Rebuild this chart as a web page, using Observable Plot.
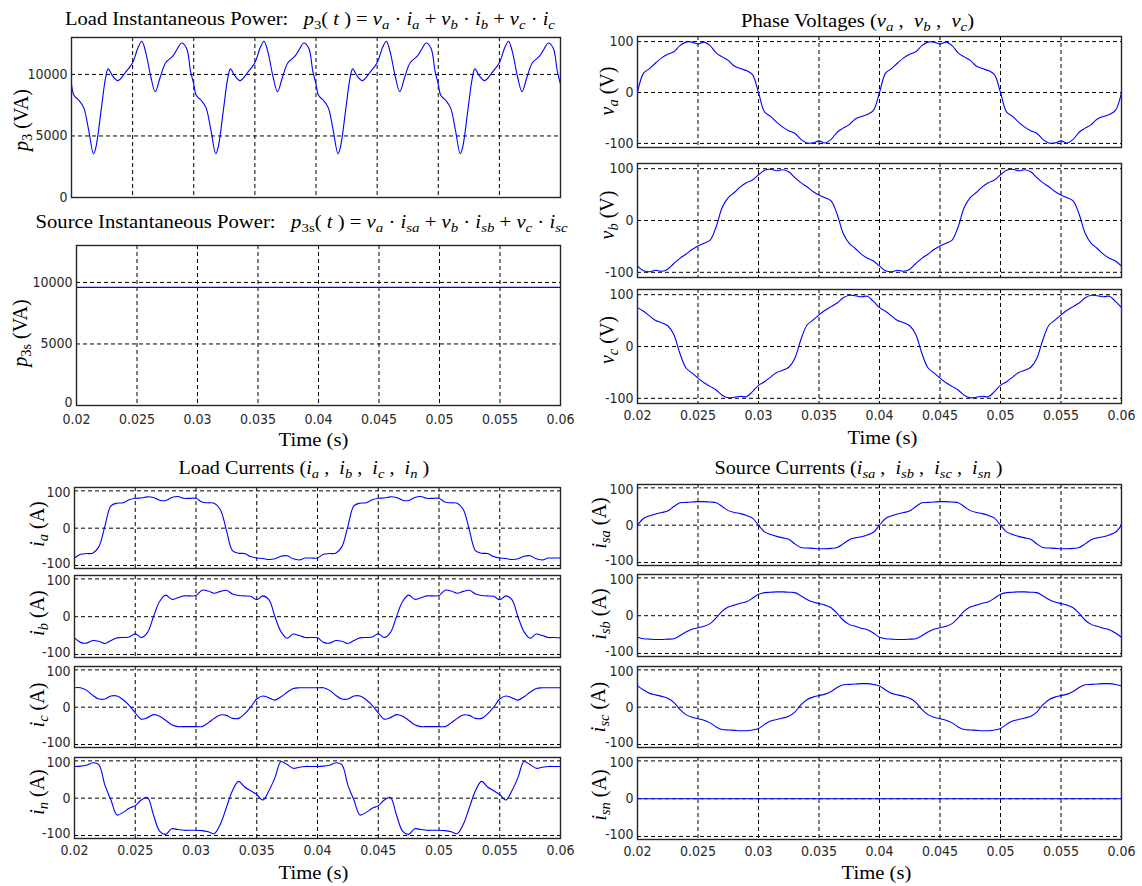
<!DOCTYPE html>
<html><head><meta charset="utf-8">
<script src="https://cdn.jsdelivr.net/npm/d3@7"></script>
<script src="https://cdn.jsdelivr.net/npm/@observablehq/plot@0.6"></script>
<style>
html,body{margin:0;padding:0;background:#fff;}
#root{position:relative;width:1142px;height:886px;background:#fff;overflow:hidden;}
.lbl{position:absolute;font-family:"Liberation Serif","Times New Roman",serif;color:#000;white-space:nowrap;line-height:1;}
.lbl sub{font-size:0.72em;vertical-align:-0.28em;line-height:0;}
.pnl{position:absolute;}
</style></head><body><div id="root"></div>
<script>
// ---------- DATA ----------
const xTicks = [0.02,0.025,0.03,0.035,0.04,0.045,0.05,0.055,0.06];
const powerTicks = [0,5000,10000];
const signalTicks = [-100,0,100];

// common time grid (s)
const t = [0.02,0.0205,0.021,0.0215,0.022,0.0225,0.023,0.0235,0.024,0.0245,0.025,0.0255,0.026,0.0265,0.027,0.0275,0.028,0.0285,0.029,0.0295,
0.03,0.0305,0.031,0.0315,0.032,0.0325,0.033,0.0335,0.034,0.0345,0.035,0.0355,0.036,0.0365,0.037,0.0375,0.038,0.0385,0.039,0.0395,
0.04,0.0405,0.041,0.0415,0.042,0.0425,0.043,0.0435,0.044,0.0445,0.045,0.0455,0.046,0.0465,0.047,0.0475,0.048,0.0485,0.049,0.0495,
0.05,0.0505,0.051,0.0515,0.052,0.0525,0.053,0.0535,0.054,0.0545,0.055,0.0555,0.056,0.0565,0.057,0.0575,0.058,0.0585,0.059,0.0595,0.06];

// load instantaneous power p3 (VA)
const p3T = [
0.0200,0.0202,0.0206,0.0210,0.0214,0.0218,0.0220,0.02245,0.02275,0.0230,0.02335,0.0238,0.0244,0.0250,0.02545,0.02575,0.02605,0.0265,0.02685,0.02725,0.0277,0.0283,0.0287,0.0290,0.0294,0.02975,
0.0300,0.0302,0.0306,0.0310,0.0314,0.0318,0.0320,0.03245,0.03275,0.0330,0.03335,0.0338,0.0344,0.0350,0.03545,0.03575,0.03605,0.0365,0.03685,0.03725,0.0377,0.0383,0.0387,0.0390,0.0394,0.03975,
0.0400,0.0402,0.0406,0.0410,0.0414,0.0418,0.0420,0.04245,0.04275,0.0430,0.04335,0.0438,0.0444,0.0450,0.04545,0.04575,0.04605,0.0465,0.04685,0.04725,0.0477,0.0483,0.0487,0.0490,0.0494,0.04975,
0.0500,0.0502,0.0506,0.0510,0.0514,0.0518,0.0520,0.05245,0.05275,0.0530,0.05335,0.0538,0.0544,0.0550,0.05545,0.05575,0.05605,0.0565,0.05685,0.05725,0.0577,0.0583,0.0587,0.0590,0.0594,0.05975,
0.0600];
const p3V = [
9220,8300,7900,7300,5500,3550,4100,7300,9500,10450,9900,9500,10150,10950,12200,12700,11900,9750,8600,9750,10950,11500,12150,12550,12150,10200,
9220,8300,7900,7300,5500,3550,4100,7300,9500,10450,9900,9500,10150,10950,12200,12700,11900,9750,8600,9750,10950,11500,12150,12550,12150,10200,
9220,8300,7900,7300,5500,3550,4100,7300,9500,10450,9900,9500,10150,10950,12200,12700,11900,9750,8600,9750,10950,11500,12150,12550,12150,10200,
9220,8300,7900,7300,5500,3550,4100,7300,9500,10450,9900,9500,10150,10950,12200,12700,11900,9750,8600,9750,10950,11500,12150,12550,12150,10200,
9220];

// source instantaneous power p3s (VA)
const p3sT = [0.02, 0.06];
const p3sV = [9600, 9600];

// phase voltages (V)
const va = [0,38,47,58,68,75,80,92,99,99,95,99,92,78,70,63,52,47,43,35,0,
-38,-47,-58,-68,-75,-80,-92,-99,-99,-95,-99,-92,-78,-70,-63,-52,-47,-43,-35,0,
38,47,58,68,75,80,92,99,99,95,99,92,78,70,63,52,47,43,35,0,
-38,-47,-58,-68,-75,-80,-92,-99,-99,-95,-99,-92,-78,-70,-63,-52,-47,-43,-35,0];
const vb = [-88,-97,-99,-96,-98,-94,-83,-73,-65,-56,-49,-44,-38,-12,25,44,54,65,73,78,88,97,99,96,98,94,83,73,65,56,49,44,38,12,-25,-44,-54,-65,-73,-78,-88,
-97,-99,-96,-98,-94,-83,-73,-65,-56,-49,-44,-38,-12,25,44,54,65,73,78,88,97,99,96,98,94,83,73,65,56,49,44,38,12,-25,-44,-54,-65,-73,-78,-88];
const vc = [75,68,59,50,46,40,23,-13,-41,-51,-61,-70,-77,-84,-94,-99,-98,-96,-97,-87,-75,-68,-59,-50,-46,-40,-23,13,41,51,61,70,77,84,94,99,98,96,97,87,75,
68,59,50,46,40,23,-13,-41,-51,-61,-70,-77,-84,-94,-99,-98,-96,-97,-87,-75,-68,-59,-50,-46,-40,-23,13,41,51,61,70,77,84,94,99,98,96,97,87,75];

// load currents (A)
const ia = [-80,-70,-68,-67,-50,5,60,67,68,76,80,81,84,82,75,74,82,85,80,80,
80,70,68,67,50,-5,-60,-67,-68,-76,-80,-81,-84,-82,-75,-74,-82,-85,-80,-80,
-80,-70,-68,-67,-50,5,60,67,68,76,80,81,84,82,75,74,82,85,80,80,
80,70,68,67,50,-5,-60,-67,-68,-76,-80,-81,-84,-82,-75,-74,-82,-85,-80,-80,-80];
const ib = [-56,-68,-70,-63,-65,-71,-63,-56,-55,-54,-45,-55,-42,0,40,57,46,50,55,55,
56,70,68,62,67,70,60,56,55,54,45,55,45,0,-40,-57,-46,-50,-55,-55,
-56,-68,-70,-63,-65,-71,-63,-56,-55,-54,-45,-55,-42,0,40,57,46,50,55,55,
56,70,68,62,67,70,60,56,55,54,45,55,45,0,-40,-57,-46,-50,-55,-55,-56];
const ic = [52,52,45,32,22,22,30,30,20,5,-15,-32,-28,-20,-24,-35,-47,-52,-52,-52,-52,-52,-42,-30,-21,-22,-30,-30,-18,0,22,30,25,19,28,40,50,52,52,52,52,
52,45,32,22,22,30,30,20,5,-15,-32,-28,-20,-24,-35,-47,-52,-52,-52,-52,-52,-42,-30,-21,-22,-30,-30,-18,0,22,30,25,19,28,40,50,52,52,52,52];
const iN = [85,86,88,95,90,35,-5,-45,-38,-27,-20,-5,2,-45,-88,-97,-82,-84,-86,-86,-86,-87,-90,-95,-70,-25,20,45,30,20,10,-5,20,55,98,90,80,83,85,85,85,
86,88,95,90,35,-5,-45,-38,-27,-20,-5,2,-45,-88,-97,-82,-84,-86,-86,-86,-87,-90,-95,-70,-25,20,45,30,20,10,-5,20,55,98,90,80,83,85,85,85];

// source currents (A)
const isa = [0,18,25,30,34,38,50,60,61,62,63,63,62,60,50,39,34,31,26,19,0,
-18,-25,-30,-34,-38,-50,-60,-61,-62,-63,-63,-62,-60,-50,-39,-34,-31,-26,-19,0,
18,25,30,34,38,50,60,61,62,63,63,62,60,50,39,34,31,26,19,0,
-18,-25,-30,-34,-38,-50,-60,-61,-62,-63,-63,-62,-60,-50,-39,-34,-31,-26,-19,0];
const isb = [-57,-61,-62,-63,-63,-62,-61,-53,-43,-36,-32,-28,-21,-6,12,23,28,33,37,46,57,61,62,63,63,62,61,53,43,36,32,28,21,6,-12,-23,-28,-33,-37,-46,-57,
-61,-62,-63,-63,-62,-61,-53,-43,-36,-32,-28,-21,-6,12,23,28,33,37,46,57,61,62,63,63,62,61,53,43,36,32,28,21,6,-12,-23,-28,-33,-37,-46,-57];
const isc = [57,46,37,33,29,24,13,-6,-20,-27,-31,-35,-42,-53,-60,-61,-62,-63,-63,-61,-57,-46,-37,-33,-29,-24,-13,6,20,27,31,35,42,53,60,61,62,63,63,61,57,
46,37,33,29,24,13,-6,-20,-27,-31,-35,-42,-53,-60,-61,-62,-63,-63,-61,-57,-46,-37,-33,-29,-24,-13,6,20,27,31,35,42,53,60,61,62,63,63,61,57];
const isnT = [0.02, 0.06];
const isnV = [0, 0];

// ---------- LAYOUT ----------
const root = document.getElementById('root');
const TICK_FONT = '"Liberation Sans Narrow","DejaVu Sans Condensed","Liberation Sans",sans-serif';

function panel(cfg) {
  const ml = 60, mr = 12, mt = 6, mb = cfg.xlab ? 30 : 6;
  const w = cfg.r - cfg.l, h = cfg.b - cfg.t;
  const data = cfg.xs.map((x, i) => ({t: x, v: cfg.ys[i]}));
  const inner = cfg.yt.filter(v => v > cfg.yd[0] && v < cfg.yd[1]);
  const lo = cfg.yt[0], hi = cfg.yt[cfg.yt.length - 1];
  const yLabelMarks = cfg.yt.map(v => Plot.text([v], {
    x: () => 0.02, y: d => d, text: d => String(d),
    textAnchor: "end", dx: -4,
    dy: v === lo ? (cfg.dyLo || 0) : v === hi ? (cfg.dyHi || 0) : 0,
    fill: "#2a2a2a"
  }));
  const svg = Plot.plot({
    width: w + ml + mr, height: h + mt + mb,
    marginLeft: ml, marginRight: mr, marginTop: mt, marginBottom: mb,
    style: {background: "transparent", fontFamily: TICK_FONT, fontSize: "14px", color: "#2a2a2a", overflow: "visible", maxWidth: "none"},
    x: {domain: [0.02, 0.06], ticks: xTicks, tickFormat: d => String(d), tickSize: 0, tickPadding: cfg.xpad || 7, label: null, axis: cfg.xlab ? "bottom" : null},
    y: {domain: cfg.yd, axis: null},
    marks: [
      Plot.ruleX(xTicks.slice(1, -1), {stroke: "#000", strokeWidth: 1, strokeDasharray: "4,3"}),
      Plot.ruleY(inner, {stroke: "#000", strokeWidth: 1, strokeDasharray: "4,3"}),
      Plot.line(data, {x: "t", y: "v", stroke: "#0000ff", strokeWidth: 1.1, curve: "catmull-rom"}),
      Plot.frame({stroke: "#262626", strokeWidth: 1.4}),
      ...yLabelMarks
    ]
  });
  const holder = document.createElement('div');
  holder.className = 'pnl';
  holder.style.left = (cfg.l - ml) + 'px';
  holder.style.top = (cfg.t - mt) + 'px';
  holder.appendChild(svg);
  root.appendChild(holder);
}

function addText(html, cx, cy, size, opts = {}) {
  const d = document.createElement('div');
  d.className = 'lbl';
  d.innerHTML = html;
  d.style.fontSize = size + 'px';
  root.appendChild(d);
  const w = d.offsetWidth, h = d.offsetHeight;
  d.style.left = (cx - w / 2) + 'px';
  d.style.top = (cy - h / 2) + 'px';
  const sx = opts.fitW ? opts.fitW / w : 1;
  d.style.transformOrigin = '50% 50%';
  d.style.transform = (opts.rotate ? 'rotate(-90deg) ' : '') + 'scale(' + sx + ',1)';
}

const V = [-108, 110], VB = [-110, 110], I = [-108, 109];
const C = {dyLo: -1.5, dyHi: 1.5};
const panels = [
  {l: 71, r: 560, t: 37, b: 197, yd: [0, 13000], yt: powerTicks, xs: p3T, ys: p3V},
  {l: 76, r: 560, t: 245, b: 405, yd: [0, 13000], yt: powerTicks, xs: p3sT, ys: p3sV, xlab: true, dyLo: -3, xpad: 9},
  {l: 637, r: 1121, t: 36, b: 147, yd: V, yt: signalTicks, xs: t, ys: va},
  {l: 637, r: 1121, t: 163, b: 277, yd: VB, yt: signalTicks, xs: t, ys: vb},
  {l: 637, r: 1121, t: 289, b: 403, yd: VB, yt: signalTicks, xs: t, ys: vc, xlab: true},
  {l: 74, r: 560, t: 487, b: 568, yd: I, yt: signalTicks, xs: t, ys: ia, ...C},
  {l: 74, r: 560, t: 575, b: 657, yd: I, yt: signalTicks, xs: t, ys: ib, ...C},
  {l: 74, r: 560, t: 666, b: 747, yd: I, yt: signalTicks, xs: t, ys: ic, ...C},
  {l: 74, r: 560, t: 757, b: 838, yd: I, yt: signalTicks, xs: t, ys: iN, xlab: true, ...C},
  {l: 637, r: 1121, t: 484, b: 565, yd: I, yt: signalTicks, xs: t, ys: isa, ...C},
  {l: 637, r: 1121, t: 574, b: 656, yd: I, yt: signalTicks, xs: t, ys: isb, ...C},
  {l: 637, r: 1121, t: 666, b: 747, yd: I, yt: signalTicks, xs: t, ys: isc, ...C},
  {l: 637, r: 1121, t: 757, b: 839, yd: I, yt: signalTicks, xs: isnT, ys: isnV, xlab: true, ...C}
];
panels.forEach(panel);

// titles
addText('Load Instantaneous Power:&nbsp;&nbsp; <i>p</i><sub>3</sub>(<i> t </i>) = <i>v<sub>a</sub></i> · <i>i<sub>a</sub></i> + <i>v<sub>b</sub></i> · <i>i<sub>b</sub></i> + <i>v<sub>c</sub></i> · <i>i<sub>c</sub></i>', 310, 19, 18, {fitW: 490});
addText('Source Instantaneous Power:&nbsp;&nbsp; <i>p</i><sub>3s</sub>(<i> t </i>) = <i>v<sub>a</sub></i> · <i>i<sub>sa</sub></i> + <i>v<sub>b</sub></i> · <i>i<sub>sb</sub></i> + <i>v<sub>c</sub></i> · <i>i<sub>sc</sub></i>', 301, 222, 18, {fitW: 532});
addText('Phase Voltages (<i>v<sub>a</sub></i> ,&nbsp; <i>v<sub>b</sub></i> ,&nbsp; <i>v<sub>c</sub></i>)', 857, 21, 18, {fitW: 233});
addText('Load Currents (<i>i<sub>a</sub></i> ,&nbsp; <i>i<sub>b</sub></i> ,&nbsp; <i>i<sub>c</sub></i> ,&nbsp; <i>i<sub>n</sub></i> )', 304, 468, 18, {fitW: 251});
addText('Source Currents (<i>i<sub>sa</sub></i> ,&nbsp; <i>i<sub>sb</sub></i> ,&nbsp; <i>i<sub>sc</sub></i> ,&nbsp; <i>i<sub>sn</sub></i> )', 858, 468, 18, {fitW: 288});

// x labels
addText('Time (s)', 313, 440, 18, {fitW: 70});
addText('Time (s)', 882, 438, 18, {fitW: 70});
addText('Time (s)', 313, 873, 18, {fitW: 70});
addText('Time (s)', 876, 873, 18, {fitW: 70});

// y labels
const ylabs = [
  ['<i>p</i><sub>3</sub> (VA)', 21, 120],
  ['<i>p</i><sub>3s</sub> (VA)', 19, 333],
  ['<i>v<sub>a</sub></i> (V)', 607, 91],
  ['<i>v<sub>b</sub></i> (V)', 607, 215],
  ['<i>v<sub>c</sub></i> (V)', 607, 340],
  ['<i>i<sub>a</sub></i> (A)', 37, 524],
  ['<i>i<sub>b</sub></i> (A)', 37, 613],
  ['<i>i<sub>c</sub></i> (A)', 37, 705],
  ['<i>i<sub>n</sub></i> (A)', 37, 792],
  ['<i>i<sub>sa</sub></i> (A)', 598, 523],
  ['<i>i<sub>sb</sub></i> (A)', 598, 614],
  ['<i>i<sub>sc</sub></i> (A)', 598, 707],
  ['<i>i<sub>sn</sub></i> (A)', 598, 795]
];
ylabs.forEach(([h, x, y]) => addText(h, x, y, 20, {rotate: true}));
</script></body></html>
